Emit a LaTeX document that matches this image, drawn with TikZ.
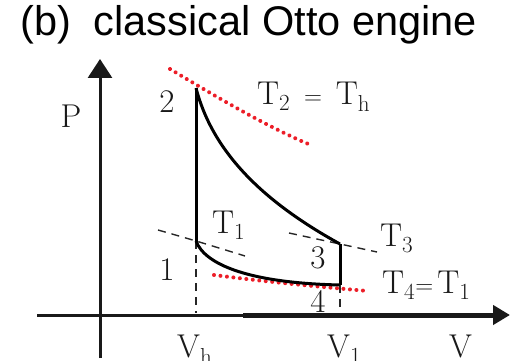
\documentclass[tikz,border=0pt]{standalone}
\usepackage{fontspec}
\newfontfamily\titlefont{Liberation Sans}
\usetikzlibrary{arrows.meta}
\definecolor{dotred}{RGB}{236,30,40}
\tikzset{
  cyc/.style={line width=3pt, line join=round},
  axisline/.style={line width=3pt, black!90},
  iso/.style={line width=1.4pt, dash pattern=on 8pt off 6pt, black!85},
  redtherm/.style={line width=4pt, dotred, dash pattern=on 0.01pt off 6.5pt, line cap=round},
  lbl/.style={font=\fontsize{33}{38}\selectfont, inner sep=0pt, anchor=base west, text=black!90},
}
\begin{document}
\begin{tikzpicture}[x=1pt,y=-1pt]
\useasboundingbox (0,0) rectangle (520,361);
% title
\node[inner sep=0pt, anchor=base west, font=\titlefont\fontsize{41.5}{46}\selectfont] (title) at (20,36) {(b)\ \ classical Otto engine};
% axes
\coordinate (yb) at (100,358);
\coordinate (yt) at (100,59);
\coordinate (xl) at (37,315);
\coordinate (xm) at (243,315);
\coordinate (xr) at (510,315);
\draw[axisline, -{Triangle[length=19pt,width=24pt]}] (yb) -- (yt);
\draw[axisline] (xl) -- (xm);
\draw[axisline, line width=5pt, -{Triangle[length=17pt,width=19pt]}] (xm) -- (xr);
% cycle points
\coordinate (p2) at (196,88);
\coordinate (p1) at (196,241);
\coordinate (p3) at (340,244);
\coordinate (p4) at (340,285);
% isotherms (dashed)
\coordinate (t1a) at (158,230);
\coordinate (t1b) at (245,256);
\coordinate (t3a) at (289,233);
\coordinate (t3b) at (377,252);
\draw[iso] plot[smooth] coordinates {(t1a) (p1) (t1b)};
\draw[iso] plot[smooth] coordinates {(t3a) (p3) (t3b)};
% red dotted isotherms
\draw[redtherm] (170,69) .. controls (215,96) and (265,126) .. (313,146);
\draw[redtherm] (214,275) .. controls (260,281) and (310,286) .. (368,291);
% dashed drop lines
\coordinate (v1b) at (196,313);
\coordinate (v2b) at (340,313);
\draw[iso] (p1) -- (v1b);
\draw[iso] (p4) -- (v2b);
% cycle
\draw[cyc] (p1) -- (p2);
\draw[cyc] (p2) .. controls (212,150) and (260,200) .. (p3);
\draw[cyc] (p3) -- (p4);
\draw[cyc] (p1) .. controls (205,265) and (250,283) .. (p4);
% labels
\node[lbl, anchor=base] (lP) at (71,128) {P};
\node[lbl, anchor=base] (l2) at (167,113) {2};
\node[lbl, anchor=base] (l1) at (167,280) {1};
\node[lbl, anchor=base] (l3) at (318,268) {3};
\node[lbl, anchor=base] (l4) at (318,312) {4};
\node[lbl] (lT2) at (257,104) {$\mathrm{T_2 \;=\; T_h}$};
\node[lbl] (lT1) at (212,233) {$\mathrm{T_1}$};
\node[lbl] (lT3) at (380,246) {$\mathrm{T_3}$};
\node[lbl] (lT4) at (382,293) {$\mathrm{T_4}{=}\,\mathrm{T_1}$};
\node[lbl] (lVh) at (177,357) {$\mathrm{V_h}$};
\node[lbl] (lV1) at (327,357) {$\mathrm{V_1}$};
\node[lbl] (lV) at (449,357) {$\mathrm{V}$};
\end{tikzpicture}
\end{document}
